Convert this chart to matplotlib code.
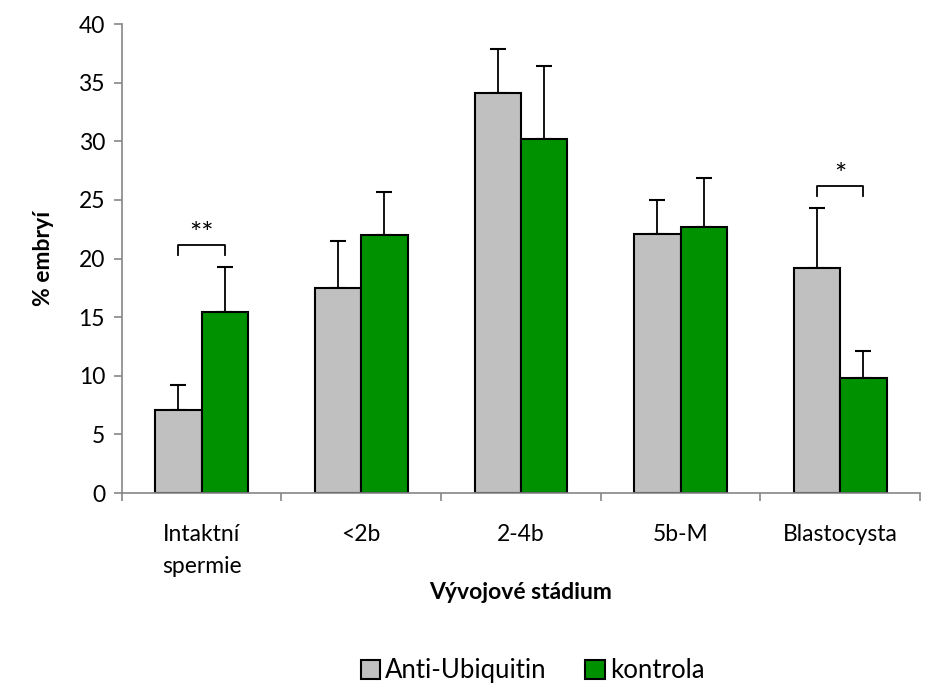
import matplotlib
matplotlib.use("Agg")
import matplotlib.pyplot as plt
import numpy as np

# data
kategorie = ["Intaktní\nspermie", "<2b", "2-4b", "5b-M", "Blastocysta"]
anti_ubiq = [7.1, 17.5, 34.1, 22.1, 19.2]
anti_err = [2.1, 4.0, 3.8, 2.9, 5.1]
kontrola = [15.4, 22.0, 30.2, 22.7, 9.8]
kontrola_err = [3.9, 3.7, 6.2, 4.2, 2.3]
# vyznamnost: (index kategorie, text)
vyznamnost = [(0, "**"), (4, "*")]

plt.rcParams['font.family'] = ['Lato', 'DejaVu Sans']

fig = plt.figure(figsize=(9.36, 6.9), dpi=100)
ax = fig.add_axes([0.130, 0.2855, 0.853, 0.6795])

x = np.arange(len(kategorie))
w = 0.29
osa = "#868686"
fs = 16.5

ax.bar(x - w/2, anti_ubiq, w, color="#c0c0c0", edgecolor="black", linewidth=1.5,
       label="Anti-Ubiquitin", zorder=2)
ax.bar(x + w/2, kontrola, w, color="#009100", edgecolor="black", linewidth=1.5,
       label="kontrola", zorder=2)
ax.errorbar(x - w/2, anti_ubiq, yerr=[np.zeros(len(x)), anti_err], fmt="none",
            ecolor="black", elinewidth=1.3, capsize=6, capthick=1.5, zorder=1)
ax.errorbar(x + w/2, kontrola, yerr=[np.zeros(len(x)), kontrola_err], fmt="none",
            ecolor="black", elinewidth=1.3, capsize=6, capthick=1.5, zorder=1)

# zavorky s hvezdickami
for i, txt in vyznamnost:
    top = max(anti_ubiq[i] + anti_err[i], kontrola[i] + kontrola_err[i]) + 1.0
    ax.plot([i - w/2, i - w/2, i + w/2, i + w/2], [top, top + 0.9, top + 0.9, top],
            color="black", lw=1.3)
    ax.text(i, top + 0.6, txt, ha="center", va="bottom", fontsize=21)

ax.set_xlim(-0.5, len(kategorie) - 0.5)
ax.set_ylim(0, 40)
ax.set_yticks(range(0, 41, 5))
ax.set_xticks(x)
ax.set_xticklabels(kategorie, fontsize=fs, linespacing=1.65)
ax.set_xticks(np.arange(-0.5, len(kategorie)), minor=True)
ax.tick_params(axis="x", which="major", length=0, pad=22)
ax.tick_params(axis="x", which="minor", length=6, color=osa, width=1.2)
ax.tick_params(axis="y", length=6, color=osa, width=1.2, labelsize=fs, pad=6)

for s in ["top", "right"]:
    ax.spines[s].set_visible(False)
for s in ["left", "bottom"]:
    ax.spines[s].set_color(osa)
    ax.spines[s].set_linewidth(1.2)

ax.set_ylabel("% embryí", fontsize=fs, fontweight="bold", labelpad=18)
ax.set_xlabel("Vývojové stádium", fontsize=fs, fontweight="bold", labelpad=4)

leg = fig.legend(loc="lower center", bbox_to_anchor=(0.569, -0.009), ncol=2,
                 frameon=False, fontsize=18.5, handlelength=0.75, handleheight=0.75,
                 handletextpad=0.2, columnspacing=1.5, borderpad=0)

fig.savefig("out.png", dpi=100)
